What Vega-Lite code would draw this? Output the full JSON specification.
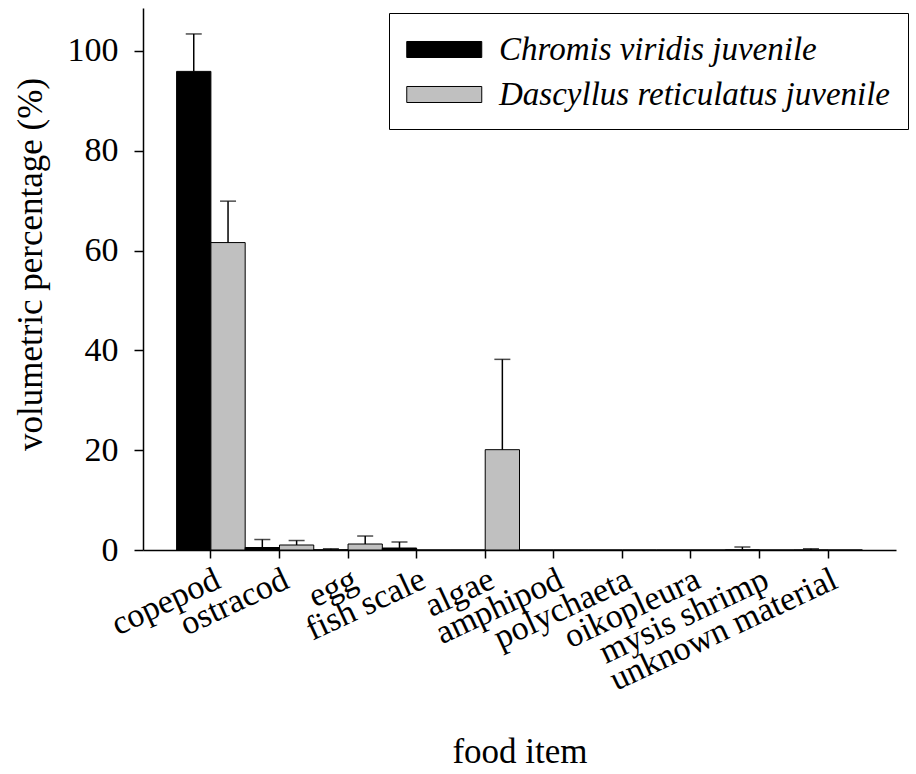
{
  "$schema": "https://vega.github.io/schema/vega-lite/v6.json",
  "width": 753,
  "height": 542,
  "autosize": {"type": "none"},
  "padding": {"left": 143, "top": 8, "right": 20, "bottom": 224},
  "background": "white",
  "config": {
    "font": "Liberation Serif",
    "view": {"stroke": null},
    "axis": {
      "domainColor": "black",
      "domainWidth": 1.5,
      "tickColor": "black",
      "tickWidth": 1.5,
      "labelColor": "black",
      "titleColor": "black",
      "labelFont": "Liberation Serif",
      "titleFont": "Liberation Serif",
      "labelFontSize": 34,
      "titleFontSize": 35,
      "titleFontWeight": "normal",
      "labelLimit": 0,
      "grid": false
    }
  },
  "data": {
    "values": [
      {"item": "copepod", "species": "Chromis viridis juvenile", "value": 95.9, "upper": 103.4},
      {"item": "copepod", "species": "Dascyllus reticulatus juvenile", "value": 61.6, "upper": 69.9},
      {"item": "ostracod", "species": "Chromis viridis juvenile", "value": 0.5, "upper": 2.1},
      {"item": "ostracod", "species": "Dascyllus reticulatus juvenile", "value": 1.0, "upper": 1.9},
      {"item": "egg", "species": "Chromis viridis juvenile", "value": 0.05, "upper": 0.25},
      {"item": "egg", "species": "Dascyllus reticulatus juvenile", "value": 1.2, "upper": 2.8},
      {"item": "fish scale", "species": "Chromis viridis juvenile", "value": 0.4, "upper": 1.6},
      {"item": "fish scale", "species": "Dascyllus reticulatus juvenile", "value": 0, "upper": null},
      {"item": "algae", "species": "Chromis viridis juvenile", "value": 0, "upper": null},
      {"item": "algae", "species": "Dascyllus reticulatus juvenile", "value": 20.1, "upper": 38.2},
      {"item": "amphipod", "species": "Chromis viridis juvenile", "value": 0, "upper": null},
      {"item": "amphipod", "species": "Dascyllus reticulatus juvenile", "value": 0, "upper": null},
      {"item": "polychaeta", "species": "Chromis viridis juvenile", "value": 0, "upper": null},
      {"item": "polychaeta", "species": "Dascyllus reticulatus juvenile", "value": 0, "upper": null},
      {"item": "oikopleura", "species": "Chromis viridis juvenile", "value": 0, "upper": null},
      {"item": "oikopleura", "species": "Dascyllus reticulatus juvenile", "value": 0, "upper": null},
      {"item": "mysis shrimp", "species": "Chromis viridis juvenile", "value": 0.05, "upper": 0.6},
      {"item": "mysis shrimp", "species": "Dascyllus reticulatus juvenile", "value": 0, "upper": null},
      {"item": "unknown material", "species": "Chromis viridis juvenile", "value": 0.02, "upper": 0.25},
      {"item": "unknown material", "species": "Dascyllus reticulatus juvenile", "value": 0, "upper": null}
    ]
  },
  "encoding": {
    "x": {
      "field": "item",
      "type": "nominal",
      "sort": ["copepod", "ostracod", "egg", "fish scale", "algae", "amphipod", "polychaeta", "oikopleura", "mysis shrimp", "unknown material"],
      "scale": {"paddingInner": 0, "paddingOuter": 0.49},
      "title": "food item",
      "axis": {
        "labelAngle": -25,
        "labelAlign": "right",
        "labelBaseline": "top",
        "tickSize": 8,
        "labelPadding": 4,
        "titleY": 212,
        "titleBaseline": "alphabetic"
      }
    },
    "xOffset": {
      "field": "species",
      "type": "nominal",
      "sort": ["Chromis viridis juvenile", "Dascyllus reticulatus juvenile"],
      "scale": {"paddingInner": 0, "paddingOuter": 0}
    }
  },
  "layer": [
    {
      "mark": {"type": "bar", "stroke": "black", "strokeWidth": 1},
      "encoding": {
        "y": {
          "field": "value",
          "type": "quantitative",
          "scale": {"domain": [0, 108.6], "nice": false},
          "title": "volumetric percentage (%)",
          "axis": {
            "values": [0, 20, 40, 60, 80, 100],
            "tickSize": 9,
            "labelPadding": 16,
            "titleX": -95,
            "titleY": 256,
            "titleBaseline": "bottom"
          }
        },
        "color": {
          "field": "species",
          "type": "nominal",
          "sort": ["Chromis viridis juvenile", "Dascyllus reticulatus juvenile"],
          "scale": {"range": ["#000000", "#c0c0c0"]},
          "legend": {
            "orient": "none",
            "legendX": 246,
            "legendY": 5,
            "title": null,
            "strokeColor": "black",
            "padding": 17,
            "symbolType": "M-1,-0.4267H3V0.4267H-1Z",
            "symbolSize": 1406.25,
            "symbolStrokeColor": "black",
            "symbolStrokeWidth": 1,
            "labelFont": "Liberation Serif",
            "labelFontSize": 33,
            "labelFontStyle": "italic",
            "labelColor": "black",
            "labelOffset": 54,
            "labelLimit": 0,
            "rowPadding": 8
          }
        }
      }
    },
    {
      "transform": [{"filter": "datum.upper != null"}],
      "mark": {"type": "rule", "color": "black", "strokeWidth": 1.5},
      "encoding": {
        "y": {"field": "value", "type": "quantitative"},
        "y2": {"field": "upper"}
      }
    },
    {
      "transform": [{"filter": "datum.upper != null"}],
      "mark": {"type": "tick", "color": "black", "size": 16, "thickness": 1.5, "orient": "horizontal"},
      "encoding": {
        "y": {"field": "upper", "type": "quantitative"}
      }
    }
  ]
}
